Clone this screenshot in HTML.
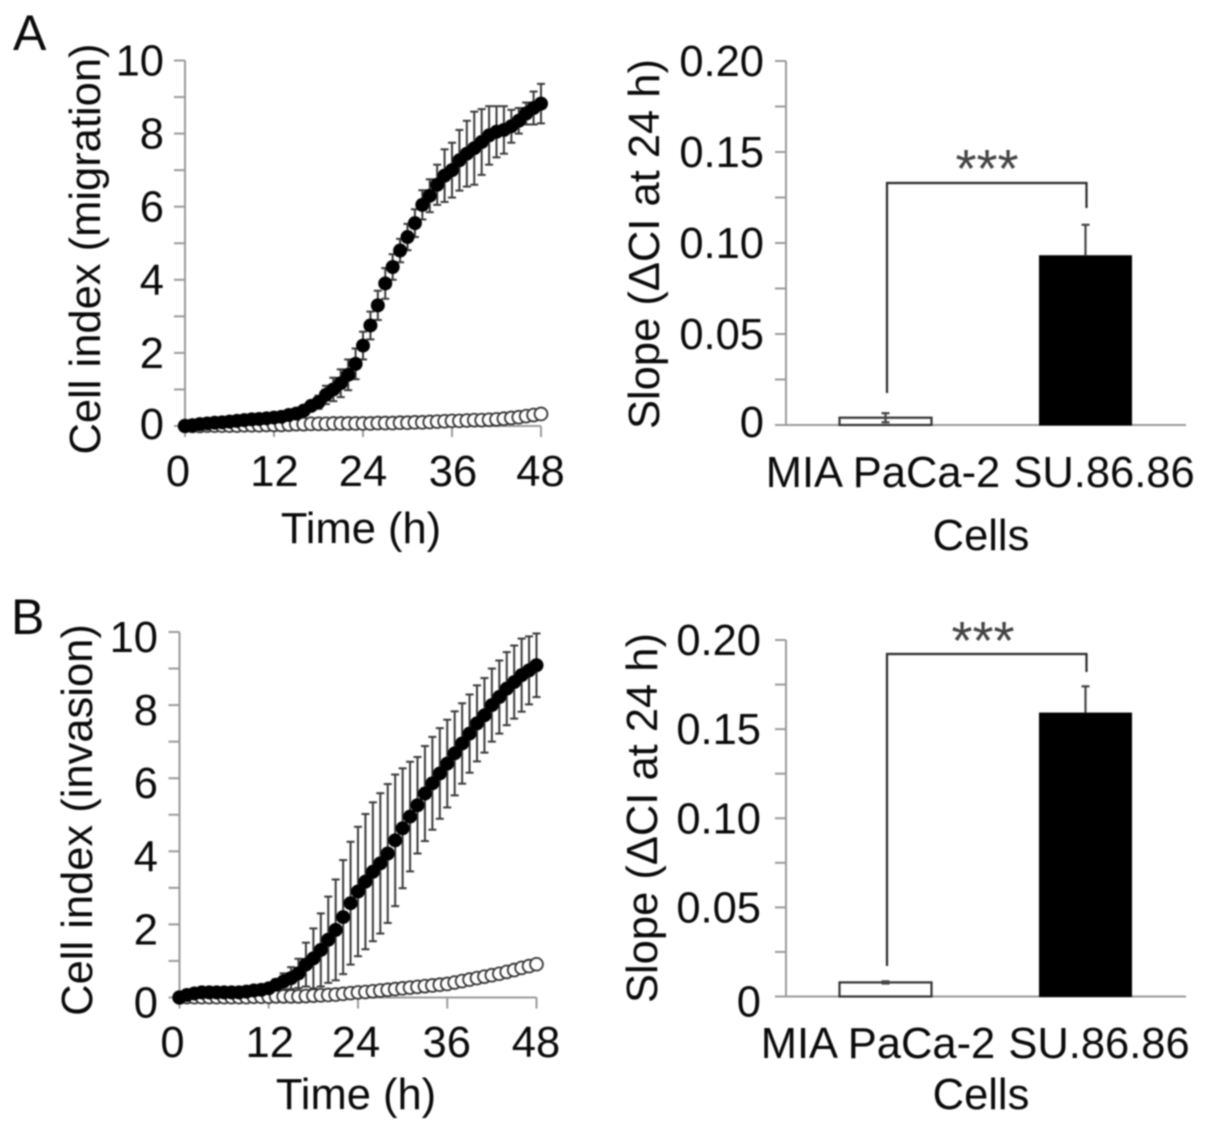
<!DOCTYPE html>
<html lang="en">
<head>
<meta charset="utf-8">
<title>Cell migration and invasion</title>
<style>
html,body{margin:0;padding:0;background:#fff;width:1205px;height:1131px;overflow:hidden}
svg{display:block;filter:blur(0.8px)}
text{font-family:"Liberation Sans",Arial,sans-serif;font-size:43.5px;fill:#0a0a0a}
</style>
</head>
<body>
<svg id="figure" xmlns="http://www.w3.org/2000/svg" width="1205" height="1131" viewBox="0 0 1205 1131"></svg>
<script>
// Hourly readings, 0 h to 48 h
const hours = [0,1,2,3,4,5,6,7,8,9,10,11,12,13,14,15,16,17,18,19,20,21,22,23,24,25,26,27,28,29,30,31,32,33,34,35,36,37,38,39,40,41,42,43,44,45,46,47,48];
const migrationSU = [0,0.02,0.05,0.07,0.09,0.1,0.12,0.14,0.16,0.18,0.19,0.21,0.23,0.25,0.3,0.34,0.42,0.55,0.65,0.85,1.0,1.17,1.4,1.7,2.2,2.75,3.3,3.9,4.35,4.8,5.17,5.55,6.05,6.3,6.6,6.85,7.0,7.27,7.45,7.6,7.77,7.95,8.05,8.1,8.2,8.35,8.55,8.7,8.82];
const migrationSUError = [0.02,0.02,0.02,0.02,0.02,0.03,0.03,0.03,0.03,0.03,0.03,0.04,0.04,0.04,0.05,0.06,0.08,0.12,0.18,0.25,0.32,0.38,0.42,0.42,0.38,0.38,0.4,0.42,0.35,0.32,0.36,0.38,0.4,0.45,0.55,0.72,0.75,0.83,0.9,1.0,0.9,0.8,0.7,0.65,0.45,0.35,0.3,0.45,0.54];
const migrationMIA = [0,0,0,0.01,0.01,0.01,0.01,0.01,0.02,0.02,0.02,0.03,0.03,0.03,0.04,0.05,0.05,0.06,0.06,0.06,0.07,0.07,0.07,0.07,0.07,0.07,0.08,0.08,0.08,0.09,0.09,0.1,0.1,0.11,0.12,0.13,0.14,0.14,0.15,0.16,0.16,0.17,0.18,0.2,0.22,0.24,0.27,0.3,0.33];
const invasionSU = [0,0.07,0.11,0.14,0.14,0.14,0.14,0.14,0.14,0.16,0.19,0.21,0.25,0.35,0.44,0.53,0.66,0.9,1.07,1.3,1.58,1.85,2.2,2.58,2.9,3.17,3.44,3.67,3.94,4.3,4.63,4.95,5.26,5.58,5.86,6.13,6.4,6.68,6.95,7.22,7.5,7.72,8.0,8.22,8.45,8.63,8.82,8.95,9.09];
const invasionSUError = [0.03,0.03,0.03,0.03,0.03,0.03,0.03,0.03,0.03,0.04,0.05,0.06,0.08,0.15,0.22,0.3,0.4,0.6,0.82,1.0,1.18,1.38,1.56,1.68,1.77,1.85,1.9,1.92,1.9,1.8,1.64,1.5,1.32,1.3,1.27,1.24,1.2,1.15,1.1,1.07,1.04,1.02,1.0,1.0,1.0,1.0,1.0,0.93,0.87];
const invasionMIA = [0,0.01,0.01,0.01,0.01,0.01,0.01,0.01,0.01,0.01,0.02,0.02,0.02,0.03,0.03,0.03,0.03,0.04,0.05,0.06,0.07,0.08,0.1,0.12,0.14,0.15,0.17,0.19,0.21,0.23,0.25,0.27,0.29,0.31,0.33,0.35,0.37,0.41,0.45,0.49,0.53,0.57,0.61,0.65,0.7,0.75,0.81,0.86,0.91];
const lineYTicks = [0,2,4,6,8,10];
const lineXTicks = [0,12,24,36,48];
const slopeYTicks = ["0","0.05","0.10","0.15","0.20"];
const slopeCategories = ["MIA PaCa-2","SU.86.86"];
const migrationSlopes = [0.004,0.093];
const migrationSlopeErrors = [0.0025,0.017];
const invasionSlopes = [0.0079,0.159];
const invasionSlopeErrors = [0.0006,0.015];

const NS = 'http://www.w3.org/2000/svg';
const fig = document.getElementById('figure');
const AXIS = '#9a9a9a';

function make(tag, attrs, parent) {
  const el = document.createElementNS(NS, tag);
  for (const k in attrs) el.setAttribute(k, attrs[k]);
  (parent || fig).appendChild(el);
  return el;
}
function label(str, x, y, anchor, parent, rotate, size) {
  const el = make('text', {x: x, y: y, 'text-anchor': anchor}, parent);
  if (rotate) el.setAttribute('transform', 'rotate(-90 ' + x + ' ' + y + ')');
  if (size) el.style.fontSize = size + 'px';
  el.textContent = str;
  return el;
}
function seg(x1, y1, x2, y2, stroke, w, parent) {
  return make('line', {x1: x1, y1: y1, x2: x2, y2: y2, stroke: stroke, 'stroke-width': w}, parent);
}

function drawLinePanel(cfg) {
  const g = make('g', {});
  
  
  const sx = h => cfg.x0 + (cfg.x48 - cfg.x0) * h / 48;
  const sy = v => cfg.y0 + (cfg.y10 - cfg.y0) * v / 10;

  const yAxis = seg(sx(0), sy(0), sx(0), sy(10), AXIS, 2, g);
  
  
  const xAxis = seg(sx(0), sy(0), sx(48), sy(0), AXIS, 2, g);
  
  

  for (let v = 0; v <= 10; v++) {
    const tick = seg(sx(0) - 11, sy(v), sx(0), sy(v), AXIS, 2, g);
    
    
  }
  lineYTicks.forEach(v => {
    const t = label(String(v), cfg.yLabelRight, sy(v) + cfg.yLabelOffset + (v === 0 ? cfg.zeroShift : 0), 'end', g);
    
    
  });
  lineXTicks.forEach((h, i) => {
    const tick = seg(sx(h), sy(0), sx(h), sy(0) + 11, AXIS, 2, g);
    
    
    const t = label(String(h), sx(h) + cfg.xLabelShift[i], cfg.xLabelY, 'middle', g);
    
    
  });

  const yt = label(cfg.yTitle, cfg.yTitleX, cfg.yTitleY, 'middle', g, true);
  
  
  const xt = label('Time (h)', cfg.xTitleX, cfg.xTitleY, 'middle', g);
  
  

  // Open circles: MIA PaCa-2
  hours.forEach((h, i) => {
    const c = make('circle', {cx: sx(h), cy: sy(cfg.open[i]), r: 6.4, fill: '#fff', stroke: '#333', 'stroke-width': 1.8}, g);
    
    
  });
  // Error bars: SU.86.86
  hours.forEach((h, i) => {
    const x = sx(h);
    const hi = sy(cfg.filled[i] + cfg.err[i]);
    const lo = sy(cfg.filled[i] - cfg.err[i]);
    const bar = seg(x, hi, x, lo, '#3a3a3a', 2, g);
    
    
    const capTop = seg(x - 4, hi, x + 4, hi, '#3a3a3a', 2, g);
    
    
    const capLow = seg(x - 4, lo, x + 4, lo, '#3a3a3a', 2, g);
    
    
  });
  // Filled circles: SU.86.86
  hours.forEach((h, i) => {
    const c = make('circle', {cx: sx(h), cy: sy(cfg.filled[i]), r: 7, fill: '#000'}, g);
    
    
  });
}

function drawBarPanel(cfg) {
  const g = make('g', {});
  
  
  const sy = v => cfg.y0 + (cfg.yTop - cfg.y0) * v / 0.2;

  const yAxis = seg(cfg.x0, cfg.y0, cfg.x0, cfg.yTop, AXIS, 2, g);
  
  
  const xAxis = seg(cfg.x0 - 11, cfg.y0, 1186, cfg.y0, AXIS, 2, g);
  
  
  for (let k = 1; k <= 8; k++) {
    const v = k * 0.025;
    const tick = seg(cfg.x0 - 11, sy(v), cfg.x0, sy(v), AXIS, 2, g);
    
    
  }
  slopeYTicks.forEach(s => {
    const val = parseFloat(s);
    const t = label(s, cfg.yLabelRight, sy(val) + 15 + (val === 0 ? cfg.zeroShift : 0), 'end', g);
    
    
  });

  const centers = [885.5, 1085.5];
  const halfWidth = 46;
  cfg.values.forEach((v, i) => {
    const top = sy(v);
    const rect = make('rect', {x: centers[i] - halfWidth, y: top, width: halfWidth * 2, height: cfg.y0 - top,
      fill: i === 0 ? '#fff' : '#000', stroke: i === 0 ? '#333' : '#000', 'stroke-width': i === 0 ? 2.2 : 1}, g);
    
    
    const hi = sy(v + cfg.errs[i]);
    const lo = i === 0 ? sy(v - cfg.errs[i]) : top;
    const bar = seg(centers[i], hi, centers[i], lo, '#444', 2.2, g);
    
    
    const cap = seg(centers[i] - 4, hi, centers[i] + 4, hi, '#444', 2.2, g);
    
    
    if (i === 0) {
      const capLow = seg(centers[i] - 4, lo, centers[i] + 4, lo, '#444', 2.2, g);
      
      
    }
    const t = label(slopeCategories[i], cfg.catX[i], cfg.catY, 'middle', g);
    
    
  });

  const b = make('path', {d: 'M887 ' + cfg.bracketLeft + 'V' + cfg.bracketTop + 'H1086.5V' + cfg.bracketRight, fill: 'none', stroke: '#2a2a2a', 'stroke-width': 2.2}, g);
  
  
  const stars = label('***', cfg.starX, cfg.starY, 'middle', g, false, 54);
  stars.style.fill = '#444';
  
  

  const yt = label('Slope (ΔCI at 24 h)', cfg.yTitleX, cfg.yTitleY, 'middle', g, true);
  
  
  const xt = label('Cells', 981, cfg.xTitleY, 'middle', g);
  
  
}

const letterA = label('A', 13, 50, 'start', fig, false, 50);


const letterB = label('B', 11, 634, 'start', fig, false, 50);



drawLinePanel({name: 'migration-line-chart', x0: 185, x48: 541, y0: 426, y10: 60.5,
  filled: migrationSU, err: migrationSUError, open: migrationMIA,
  yLabelRight: 164, yLabelOffset: 15, zeroShift: -2, xLabelShift: [-7, 0.5, 0, 1, -0.5], xLabelY: 486,
  yTitle: 'Cell index (migration)', yTitleX: 100, yTitleY: 249, xTitleX: 361, xTitleY: 543});
drawLinePanel({name: 'invasion-line-chart', x0: 179.5, x48: 536.5, y0: 997.5, y10: 632,
  filled: invasionSU, err: invasionSUError, open: invasionMIA,
  yLabelRight: 158, yLabelOffset: 20, zeroShift: 0, xLabelShift: [-7, 1, -2, -0.5, -0.5], xLabelY: 1057,
  yTitle: 'Cell index (invasion)', yTitleX: 92, yTitleY: 820, xTitleX: 356, xTitleY: 1109});
drawBarPanel({name: 'migration-slope-bar-chart', x0: 786, y0: 425, yTop: 61,
  values: migrationSlopes, errs: migrationSlopeErrors, catX: [883, 1104], catY: 487, yLabelRight: 764, zeroShift: -3,
  bracketLeft: 393, bracketTop: 183, bracketRight: 208, starX: 987, starY: 187, yTitleX: 659, yTitleY: 244, xTitleY: 550});
drawBarPanel({name: 'invasion-slope-bar-chart', x0: 786, y0: 996.5, yTop: 640,
  values: invasionSlopes, errs: invasionSlopeErrors, catX: [878, 1099], catY: 1058, yLabelRight: 761, zeroShift: 5,
  bracketLeft: 966, bracketTop: 654, bracketRight: 672, starX: 983, starY: 659, yTitleX: 657, yTitleY: 818, xTitleY: 1109});
</script>
</body>
</html>
